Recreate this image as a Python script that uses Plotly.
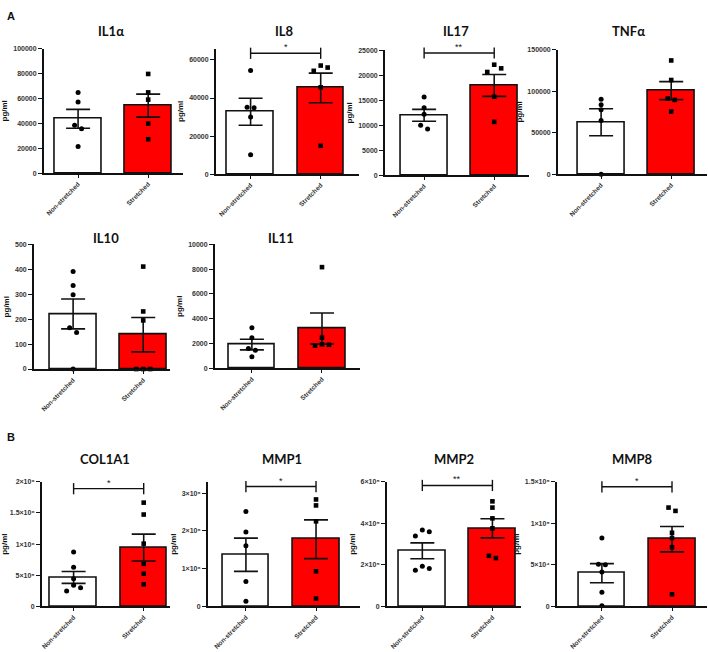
import plotly.graph_objects as go

W, H = 708, 652

titles = ['IL1α', 'IL8', 'IL17', 'TNFα', 'IL10', 'IL11', 'COL1A1', 'MMP1', 'MMP2', 'MMP8']
groups = ['Non-stretched', 'Stretched']

# bar heights (mean) and SEM
mean_non = [43600, 32800, 12000, 62500, 221, 1900, 465000, 1370000, 268000, 40000]
sem_non = [7600, 7100, 1200, 16200, 60, 430, 95000, 440000, 38000, 11500]
mean_str = [54200, 45300, 18000, 100500, 138, 3200, 945000, 1780000, 376000, 81000]
sem_str = [9200, 7800, 2200, 10800, 69, 1250, 215000, 513000, 46000, 15300]

# single donors
il1a_non = [64800, 57100, 38400, 35700, 21400]
il1a_str = [79600, 64800, 59000, 39700, 27200]
il8_non = [54450, 35200, 34860, 30000, 10230]
il8_str = [57050, 56000, 54280, 45600, 14900]
il17_non = [15650, 13530, 12200, 10010, 9280]
il17_str = [22150, 21420, 20690, 15720, 10680]
tnfa_non = [90160, 83380, 77400, 64630, 0]
tnfa_str = [136840, 113300, 90960, 89360, 75400]
il10_non = [391, 335, 298, 166, 147, 0]
il10_str = [411, 231, 195, 0, 0, 0]
il11_non = [3256, 2456, 1576, 1440, 904]
il11_str = [8160, 2456, 1920, 1880, 1816]
col1a1_non = [875000, 631000, 446000, 340000, 302000, 249000]
col1a1_str = [1666000, 1475000, 1008000, 684000, 525000, 355000]
mmp1_non = [2517000, 1974000, 1605000, 658000, 140000]
mmp1_str = [2833000, 2675000, 2254000, 930000, 210000]
mmp2_non = [368000, 360000, 339500, 193600, 182500, 174600]
mmp2_str = [506000, 476000, 424000, 376000, 244000, 233000]
mmp8_non = [82400, 50900, 50100, 41400, 17100, 800]
mmp8_str = [119000, 115000, 88700, 82400, 71200, 14700]

pts_non = [il1a_non, il8_non, il17_non, tnfa_non, il10_non, il11_non,
           col1a1_non, mmp1_non, mmp2_non, mmp8_non]
pts_str = [il1a_str, il8_str, il17_str, tnfa_str, il10_str, il11_str,
           col1a1_str, mmp1_str, mmp2_str, mmp8_str]

# significance brackets
bracket_y = [None, 63500, 24500, None, None, None, 1890000, 3175000, 582500, 144000]
stars = ['', '*', '**', '', '', '', '*', '*', '**', '*']

# y axes
y_top = [100000, 66000, 25000, 150000, 500, 10000, 2e6, 3.3e6, 6e5, 1.5e5]
y_ticks = [
    [0, 20000, 40000, 60000, 80000, 100000],
    [0, 20000, 40000, 60000],
    [0, 5000, 10000, 15000, 20000, 25000],
    [0, 50000, 100000, 150000],
    [0, 100, 200, 300, 400, 500],
    [0, 2000, 4000, 6000, 8000, 10000],
    [0, 5e5, 1e6, 1.5e6, 2e6],
    [0, 1e6, 2e6, 3e6],
    [0, 2e5, 4e5, 6e5],
    [0, 5e4, 1e5, 1.5e5],
]
y_ticktext = [
    None, None, None, None, None, None,
    ['0', '5×10⁵', '1×10⁶', '1.5×10⁶', '2×10⁶'],
    ['0', '1×10⁶', '2×10⁶', '3×10⁶'],
    ['0', '2×10⁵', '4×10⁵', '6×10⁵'],
    ['0', '5×10⁴', '1×10⁵', '1.5×10⁵'],
]

# pixel boxes: y-axis line x, first bar centre, x end, top y, zero y
boxes = [
    (40, 74.5, 180, 45, 171),
    (213, 248, 357, 45, 172),
    (383, 422.5, 528, 47, 173),
    (557, 600.5, 707, 46, 172),
    (30, 69.5, 167, 243, 369),
    (212, 249.3, 358, 243, 368),
    (38, 70, 167, 483, 609),
    (205, 243.3, 358, 483, 609),
    (385, 420.7, 520, 483, 609),
    (556, 601.3, 707, 483, 609),
]
title_px = [108, 282, 455, 628, 103, 279, 102, 280, 453, 632]
title_py = [27, 27, 27, 27, 237, 237, 460, 460, 460, 460]
UNIT = 70.5  # px between the two bar centres

RED = '#ff0000'
INK = '#111111'
TICKFONT = dict(family='Liberation Sans, Arial', size=7, color='#333333', weight=700)
XTICKFONT = dict(family='Liberation Sans, Arial', size=6.5, color='#333333', weight=700)


def spread(vals, ymax, px_h, gap_px=7.0, min_px=5.0):
    # put points that would overlap side by side, like a column scatter
    order = sorted(range(len(vals)), key=lambda i: -vals[i])
    clusters = []
    for i in order:
        if clusters and (vals[clusters[-1][-1]] - vals[i]) / ymax * px_h < min_px:
            clusters[-1].append(i)
        else:
            clusters.append([i])
    offs = [0.0] * len(vals)
    for c in clusters:
        n = len(c)
        if n % 2:
            slots = [0]
            for k in range(1, n // 2 + 1):
                slots += [k, -k]
        else:
            slots = []
            for k in range(n // 2):
                slots += [-(k + 0.5), k + 0.5]
        for s, i in zip(slots, c):
            offs[i] = s * gap_px / UNIT
    return offs


fig = go.Figure()
annotations = []

for p in range(len(titles)):
    x0, c0, x1, ytp, yzp = boxes[p]
    xa = 'x' if p == 0 else f'x{p + 1}'
    ya = 'y' if p == 0 else f'y{p + 1}'
    px_h = yzp - ytp

    fig.add_trace(go.Bar(
        x=[0, 1], y=[mean_non[p], mean_str[p]],
        width=0.667,
        marker=dict(color=['white', RED], line=dict(color=INK, width=1.6)),
        error_y=dict(type='data', array=[sem_non[p], sem_str[p]],
                     color=INK, thickness=1.6, width=12),
        xaxis=xa, yaxis=ya, showlegend=False, hoverinfo='skip'))

    off_n = spread(pts_non[p], y_top[p], px_h)
    fig.add_trace(go.Scatter(
        x=[0 + o for o in off_n], y=pts_non[p], mode='markers',
        marker=dict(symbol='circle', size=5, color='black'),
        xaxis=xa, yaxis=ya, showlegend=False, cliponaxis=False))
    off_s = spread(pts_str[p], y_top[p], px_h)
    fig.add_trace(go.Scatter(
        x=[1 + o for o in off_s], y=pts_str[p], mode='markers',
        marker=dict(symbol='square', size=4.6, color='black'),
        xaxis=xa, yaxis=ya, showlegend=False, cliponaxis=False))

    if bracket_y[p] is not None:
        fig.add_trace(go.Scatter(
            x=[0, 1], y=[bracket_y[p], bracket_y[p]], mode='lines+markers',
            line=dict(color=INK, width=1.4),
            marker=dict(symbol='line-ns-open', size=8, line=dict(color=INK, width=1.4)),
            xaxis=xa, yaxis=ya, showlegend=False, cliponaxis=False))
        annotations.append(dict(
            x=0.5, y=bracket_y[p], xref=xa, yref=ya, text=stars[p],
            showarrow=False, xanchor='center', yanchor='bottom', yshift=-1,
            font=dict(family='Liberation Sans, Arial', size=9, color=INK)))

    xr = [(x0 - c0) / UNIT, (x1 - c0) / UNIT]
    xkey = 'xaxis' if p == 0 else f'xaxis{p + 1}'
    ykey = 'yaxis' if p == 0 else f'yaxis{p + 1}'
    fig.layout[xkey] = dict(
        domain=[x0 / W, x1 / W], range=xr, anchor=ya,
        tickvals=[0, 1], ticktext=groups, tickangle=-45,
        showline=True, linecolor=INK, linewidth=1.5,
        ticks='outside', ticklen=3, tickwidth=1.3, tickcolor=INK,
        showgrid=False, zeroline=False, tickfont=XTICKFONT, fixedrange=True)
    yax = dict(
        domain=[1 - yzp / H, 1 - ytp / H], range=[0, y_top[p]], anchor=xa,
        tickvals=y_ticks[p], tickformat='d',
        showline=True, linecolor=INK, linewidth=1.5,
        ticks='outside', ticklen=4, tickwidth=1.3, tickcolor=INK,
        showgrid=False, zeroline=False, tickfont=TICKFONT, fixedrange=True,
        title=dict(text='pg/ml', font=dict(family='Liberation Sans, Arial', size=8,
                                             color=INK, weight=700), standoff=4))
    if y_ticktext[p] is not None:
        yax['ticktext'] = y_ticktext[p]
    fig.layout[ykey] = yax

    annotations.append(dict(
        x=title_px[p] / W, y=1 - title_py[p] / H, xref='paper', yref='paper',
        text=f'<b>{titles[p]}</b>', showarrow=False, xanchor='center', yanchor='middle',
        font=dict(family='Lato, Open Sans', size=13, color=INK)))

for letter, py in [('A', 12), ('B', 438)]:
    annotations.append(dict(
        x=7 / W, y=1 - py / H, xref='paper', yref='paper', text=f'<b>{letter}</b>',
        showarrow=False, xanchor='center', yanchor='middle',
        font=dict(family='Liberation Sans, Arial', size=11, color=INK)))

fig.update_layout(
    width=W, height=H, autosize=False,
    margin=dict(l=0, r=0, t=0, b=0),
    paper_bgcolor='white', plot_bgcolor='white',
    bargap=0, annotations=annotations)

fig.write_html('out.html', config={'displayModeBar': False},
               post_script="document.body.style.margin='0';document.body.style.overflow='hidden';")
